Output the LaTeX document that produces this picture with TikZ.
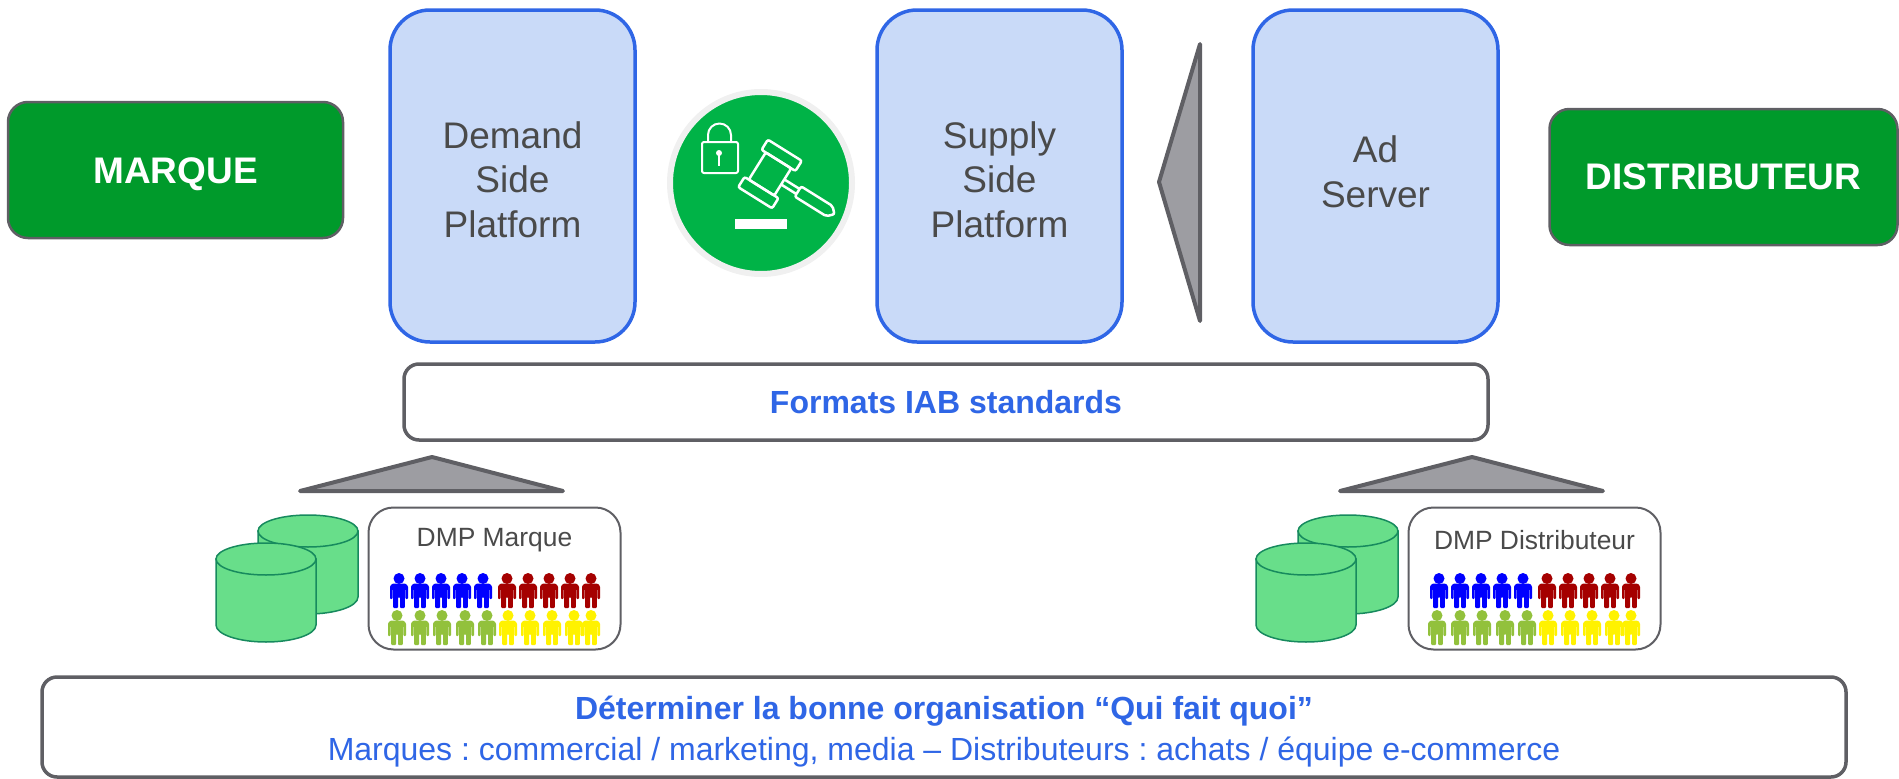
\documentclass[tikz,border=0pt]{standalone}
\usepackage{fontspec}
\setmainfont{Liberation Sans}
\frenchspacing
\definecolor{darkgrn}{HTML}{009A2B}
\definecolor{paleblu}{HTML}{C9DAF8}
\definecolor{edgeblu}{HTML}{2F66E6}
\definecolor{edgegry}{HTML}{5F5F64}
\definecolor{textgry}{HTML}{4A4A4A}
\definecolor{arrowgry}{HTML}{9D9DA2}
\definecolor{cylgrn}{HTML}{68DE8A}
\definecolor{cyledge}{HTML}{178A5E}
\definecolor{icongrn}{HTML}{00B347}
\definecolor{persongrn}{HTML}{92C13C}
\definecolor{personred}{HTML}{A50000}
\tikzset{
	actor/.style={draw=edgegry, fill=darkgrn, line width=2.5pt, rounded corners=20pt, outer sep=0pt, minimum height=136pt},
	actortext/.style={text=white, font=\fontsize{37}{40}\selectfont\bfseries},
	platform/.style={draw=edgeblu, fill=paleblu, line width=3.5pt, rounded corners=40pt, outer sep=0pt,
		minimum width=245pt, minimum height=332pt},
	platformtext/.style={text=textgry, align=center, font=\fontsize{37}{44.5}\selectfont},
	band/.style={draw=edgegry, fill=white, line width=3.5pt, rounded corners=15pt, outer sep=0pt},
	bandtext/.style={text=edgeblu, align=center},
	dmpbox/.style={draw=edgegry, fill=white, line width=2pt, rounded corners=25pt, outer sep=0pt,
		minimum width=252pt, minimum height=142pt},
	dmplabel/.style={text=textgry, font=\fontsize{26.4}{30}\selectfont},
	wedge/.style={draw=edgegry, fill=arrowgry, line width=4pt, line join=round},
	pics/person/.style={code={
		\fill[#1] (0,5.5) circle[x radius=5.5, y radius=5.5];
		\fill[#1, rounded corners=1pt] (-9,26) -- (-9,13) -- (-6.5,10.5) -- (6.5,10.5) -- (9,13) -- (9,26) -- (6.3,26) -- (6.3,16) -- (5.8,16)
			-- (5.8,35) -- (1,35) -- (1,24) -- (-1,24) -- (-1,35) -- (-5.8,35) -- (-5.8,16) -- (-6.3,16) -- (-6.3,26) -- cycle;
	}},
	pics/drum/.style={code={
		\draw[cyledge, fill=cylgrn, line width=1.5pt] (-50,0) -- (-50,66) arc[start angle=180, end angle=0, x radius=50, y radius=17]
			-- (50,0) -- cycle;
		\draw[cyledge, fill=cylgrn, line width=1.5pt] (0,0) ellipse[x radius=50, y radius=16];
	}},
}
\begin{document}
\begin{tikzpicture}[x=1pt, y=-1pt]
	\useasboundingbox (0,0) rectangle (1899,779);

	\node[actor, minimum width=335pt] (marque) at (175.5,170) {};
	\node[actortext, yshift=-4pt] (marquetext) at (marque) {MARQUE};
	\node[actor, minimum width=348pt] (distrib) at (1723.5,177) {};
	\node[actortext] (distribtext) at (distrib) {DISTRIBUTEUR};

	\node[platform] (dsp) at (512.5,176) {};
	\node[platformtext, yshift=-3.5pt] (dsptext) at (dsp) {Demand\\Side\\Platform};
	\node[platform] (ssp) at (999.5,176) {};
	\node[platformtext, yshift=-3.5pt] (ssptext) at (ssp) {Supply\\Side\\Platform};
	\node[platform] (adserver) at (1375.5,176) {};
	\node[platformtext, yshift=4pt] (adservertext) at (adserver) {Ad\\Server};

	\draw[wedge] (1200,44) -- (1200,321) -- (1159,182) -- cycle;

	\node[circle, draw=black!6, fill=icongrn, line width=6pt, minimum size=182pt, outer sep=0pt] (auction) at (761,183) {};
	\begin{scope}[white, line width=2pt, line join=round]
		\draw[rounded corners=2pt] (702,142) rectangle (738,173);
		\draw (708,142) -- (708,135) arc[start angle=180, end angle=360, radius=11.5] -- (731,142);
		\fill (719,153) circle[radius=3];
		\fill (717.8,153) rectangle (720.2,166);
		\fill (735,219) rectangle (787,229);
	\end{scope}
	\begin{scope}[shift={(770,174)}, rotate=-32, white, line width=2.5pt, rounded corners=2pt]
		\draw (-20,-28) rectangle (20,-16);
		\draw (-20,16) rectangle (20,28);
		\draw (-15,-16) rectangle (15,16);
		\draw (15,-3) -- (33,-3) (15,3) -- (33,3);
		\draw (33,-6) -- (70,-6) -- (76,0) -- (70,6) -- (33,6) -- cycle;
	\end{scope}

	\node[band, minimum width=1084pt, minimum height=76pt] (formats) at (946,402) {};
	\node[bandtext, font=\fontsize{32}{35}\selectfont\bfseries] (formatstext) at (formats) {Formats IAB standards};

	\foreach \dx/\name/\label in {0/marque/DMP Marque, 1040/distrib/DMP Distributeur}{
		\begin{scope}[xshift=\dx pt]
			\draw[wedge] (300,491) -- (432,457) -- (563,491) -- cycle;
			\pic at (308,531) {drum};
			\pic at (266,559) {drum};
			\node[dmpbox] (dmp\name) at (494.5,578.5) {};
			\node[dmplabel] (lbl\name) at (494.5,540) {\label};
			\foreach \px in {399,420,441,462,483}{\pic at (\px,573) {person=blue};}
			\foreach \px in {507,528,549,570,591}{\pic at (\px,573) {person=personred};}
			\foreach \px in {397,420,442,465,487}{\pic at (\px,610) {person=persongrn};}
			\foreach \px in {508,530,552,574,591}{\pic at (\px,610) {person=yellow};}
		\end{scope}
	}

	\node[band, minimum width=1804pt, minimum height=100pt] (bottom) at (944,727) {};
	\node[bandtext, yshift=-4.5pt, font=\fontsize{32}{41}\selectfont] (bottomtext) at (bottom)
		{\textbf{Déterminer la bonne organisation “Qui fait quoi”}\\Marques : commercial / marketing, media – Distributeurs : achats / équipe e-commerce};
\end{tikzpicture}
\end{document}
